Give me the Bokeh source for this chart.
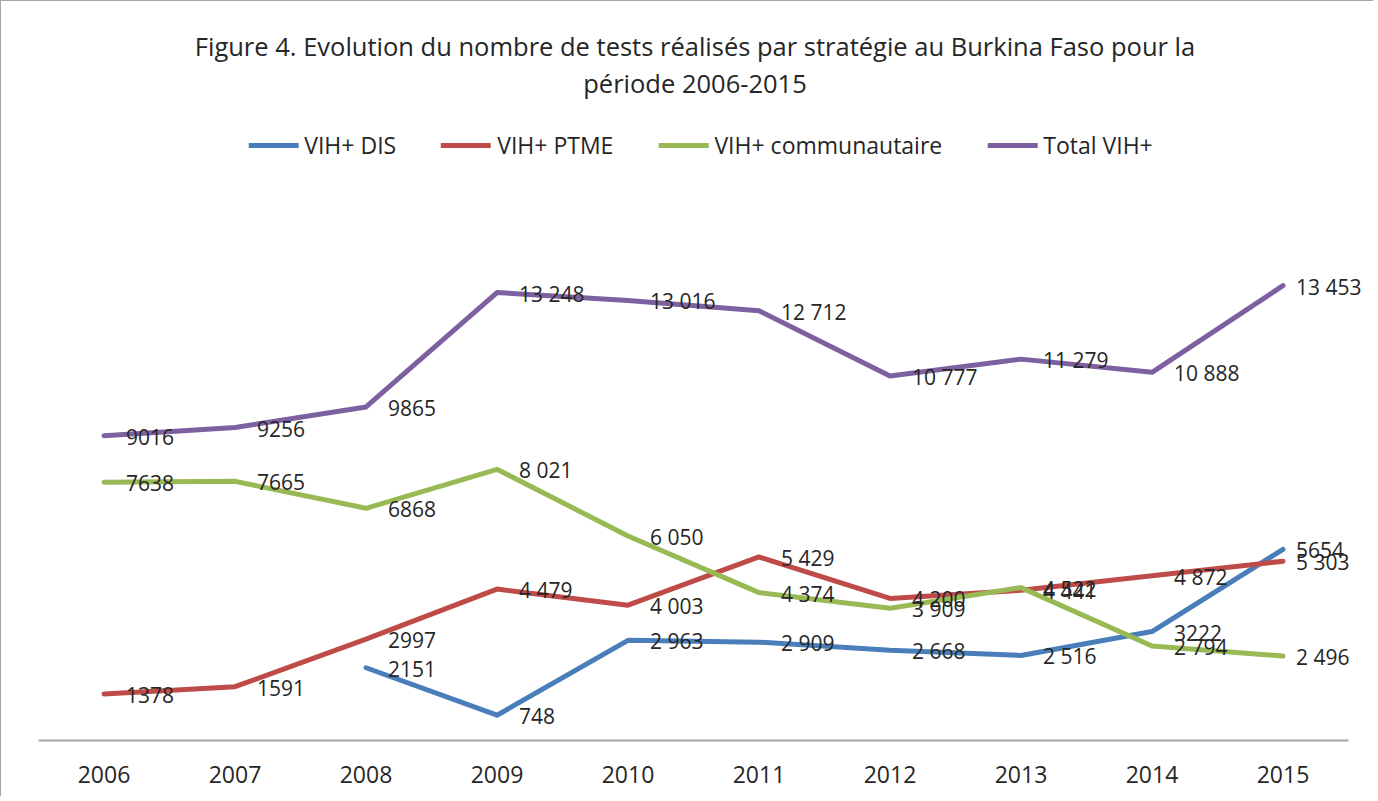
from bokeh.plotting import figure
from bokeh.models import Range1d, ColumnDataSource, Legend, LegendItem, Div, FixedTicker
from bokeh.layouts import column
from bokeh.embed import file_html
from bokeh.resources import INLINE
from bokeh.core.properties import value

years = [2006, 2007, 2008, 2009, 2010, 2011, 2012, 2013, 2014, 2015]

dis_years = [2008, 2009, 2010, 2011, 2012, 2013, 2014, 2015]
dis = [2151, 748, 2963, 2909, 2668, 2516, 3222, 5654]
dis_labels = ["2151", "748", "2 963", "2 909", "2 668", "2 516", "3222", "5654"]

ptme = [1378, 1591, 2997, 4479, 4003, 5429, 4200, 4441, 4872, 5303]
ptme_labels = ["1378", "1591", "2997", "4 479", "4 003", "5 429", "4 200", "4 441", "4 872", "5 303"]

comm = [7638, 7665, 6868, 8021, 6050, 4374, 3909, 4522, 2794, 2496]
comm_labels = ["7638", "7665", "6868", "8 021", "6 050", "4 374", "3 909", "4 522", "2 794", "2 496"]

total = [9016, 9256, 9865, 13248, 13016, 12712, 10777, 11279, 10888, 13453]
total_labels = ["9016", "9256", "9865", "13 248", "13 016", "12 712", "10 777", "11 279", "10 888", "13 453"]

series_names = ["VIH+ DIS", "VIH+ PTME", "VIH+ communautaire", "Total VIH+"]
colors = ["#4A7EBB", "#BE4B48", "#98B954", "#7D60A0"]

title_lines = ["Figure 4. Evolution du nombre de tests réalisés par stratégie au Burkina Faso pour la",
               "période 2006-2015"]

FONT = "Open Sans"
TXT = "#262626"

# layout (pixels)
W = 1362
DIV_H = 100
FIG_H = 685
B_LEFT, B_RIGHT, B_TOP, B_BOTTOM = 37, 0, 2, 56
frame_h = FIG_H - B_TOP - B_BOTTOM
frame_w = W - B_LEFT - B_RIGHT
px_per_year = 131.0
px_per_unit = 541.0 / 16000.0

x_start = years[0] - 0.5
x_end = x_start + frame_w / px_per_year
y_end = frame_h / px_per_unit

p = figure(
    width=W, height=FIG_H,
    x_range=Range1d(x_start, x_end),
    y_range=Range1d(0, y_end),
    output_backend="svg", toolbar_location=None,
    y_axis_location=None,
    min_border_left=B_LEFT, min_border_right=B_RIGHT,
    min_border_top=B_TOP, min_border_bottom=B_BOTTOM,
)
p.outline_line_color = None
p.xgrid.grid_line_color = None
p.ygrid.grid_line_color = None
p.background_fill_color = "white"
p.border_fill_color = "white"

xa = p.xaxis[0]
xa.ticker = FixedTicker(ticks=years)
xa.bounds = (years[0] - 0.5, years[-1] + 0.5)
xa.axis_line_color = "#a6a6a6"
xa.axis_line_width = 2
xa.major_tick_line_color = None
xa.minor_tick_line_color = None
xa.major_label_text_font = FONT
xa.major_label_text_font_size = "23px"
xa.major_label_text_color = TXT
xa.major_label_standoff = 19

data = [
    (dis_years, dis, dis_labels),
    (years, ptme, ptme_labels),
    (years, comm, comm_labels),
    (years, total, total_labels),
]

items = []
for (xs, ys, labs), name, col in zip(data, series_names, colors):
    src = ColumnDataSource(dict(x=xs, y=ys, lab=labs))
    r = p.line("x", "y", source=src, line_color=col, line_width=5, line_cap="round", line_join="round")
    items.append(LegendItem(label=name, renderers=[r]))

for (xs, ys, labs), name, col in zip(data, series_names, colors):
    # labels to the right of each point; the last year is nudged closer to stay inside the canvas
    offs = [13 if x == years[-1] else 22 for x in xs]
    src = ColumnDataSource(dict(x=xs, y=ys, lab=labs, dx=offs))
    p.text("x", "y", text="lab", source=src, x_offset="dx", y_offset=1,
           text_font=value(FONT), text_font_size="21px", text_color=TXT,
           text_align="left", text_baseline="middle")

legend = Legend(items=items, orientation="horizontal", location="top_center",
                label_text_font=FONT, label_text_font_size="23px", label_text_color=TXT,
                glyph_width=50, glyph_height=20, label_standoff=6, spacing=45,
                border_line_color=None, background_fill_alpha=0, margin=16, padding=4)
p.add_layout(legend, "center")

div = Div(
    text=("<div style=\"display:block;position:relative;left:13px;width:%dpx;text-align:center;"
          "font-family:'Open Sans';font-size:25.5px;line-height:37px;color:%s;padding-top:22px;\">%s<br>%s</div>"
          % (W - 10, TXT, title_lines[0], title_lines[1])),
    width=W, height=DIV_H,
)

layout = column(div, p)
layout.styles = {"border-left": "1px solid #a6a6a6", "border-top": "1px solid #a6a6a6"}

open("out.html", "w").write(file_html(layout, INLINE))
